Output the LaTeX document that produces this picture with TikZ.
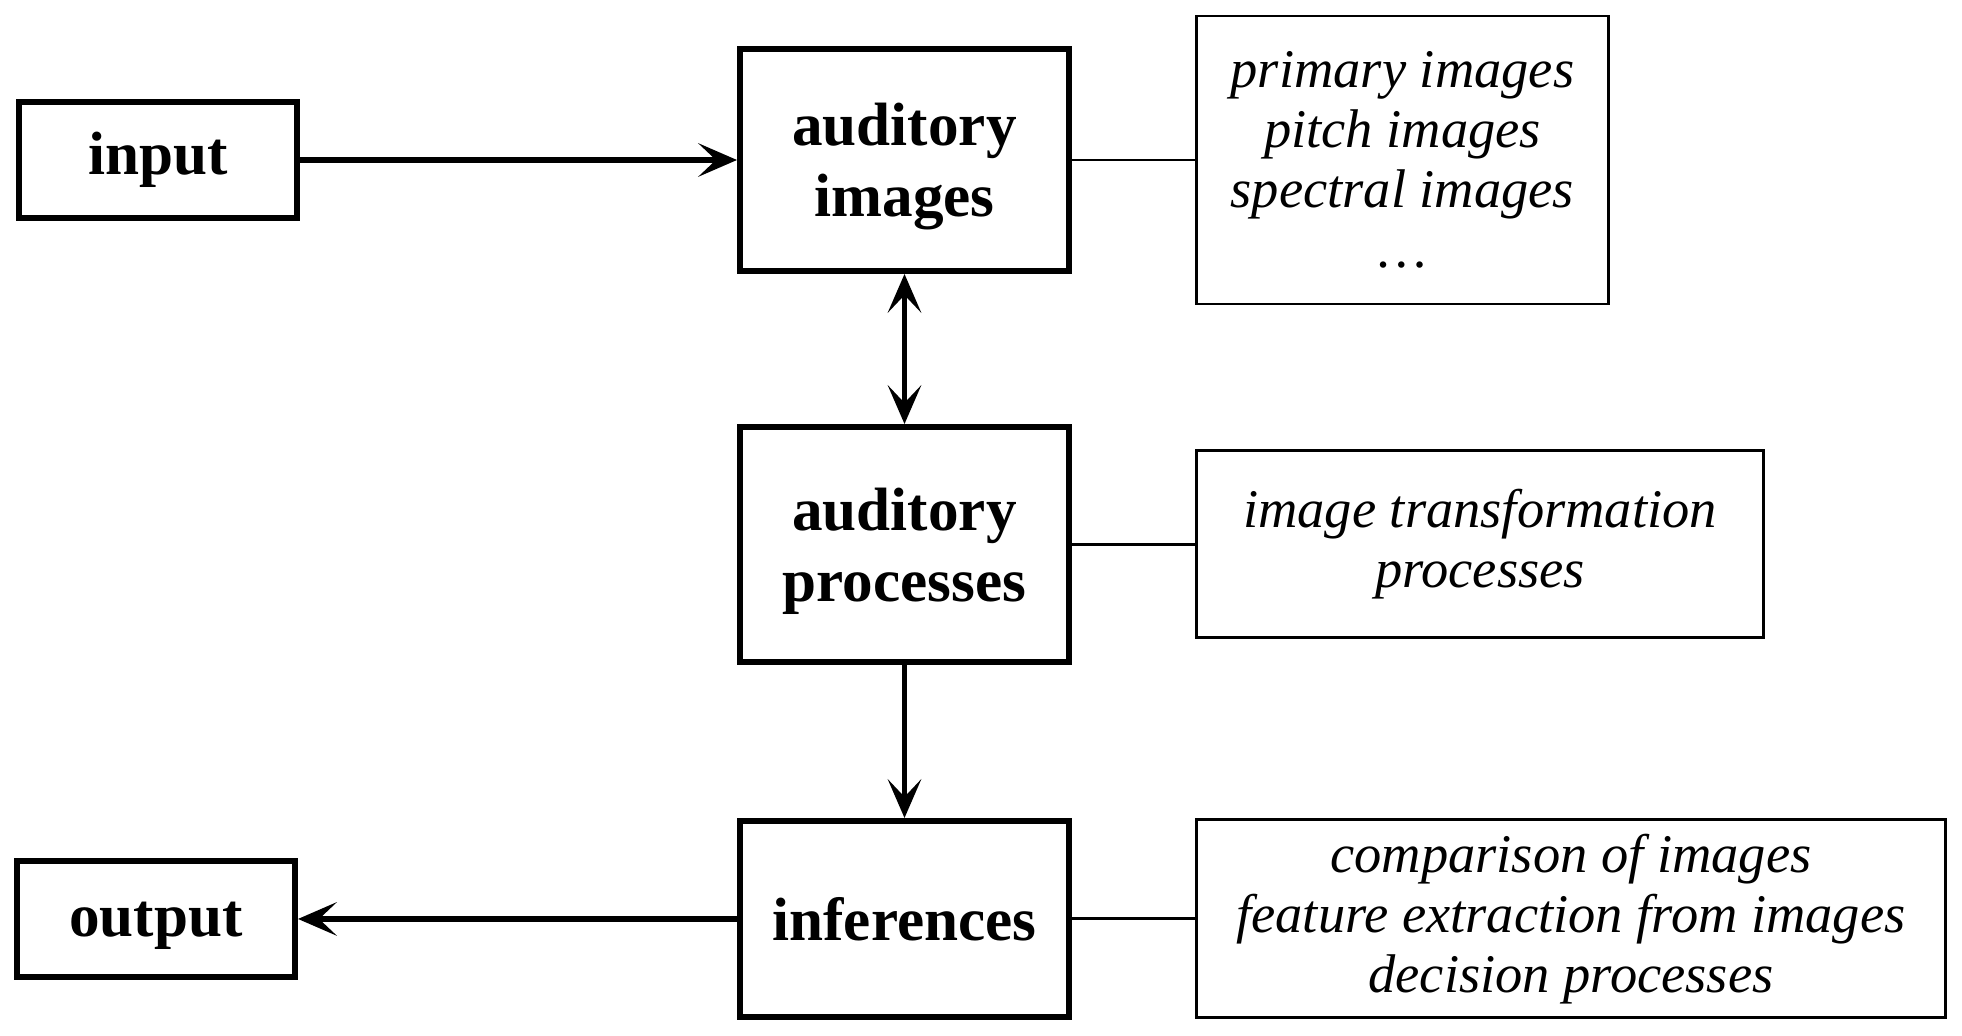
\documentclass[tikz,border=0pt]{standalone}
\usepackage{fontspec}
\setmainfont{Liberation Serif}
\usetikzlibrary{arrows.meta,positioning}

\begin{document}
\begin{tikzpicture}[
  mainbox/.style={draw,line width=1.7pt,align=center,minimum width=3.29cm,
    text depth=0pt,font=\fontsize{17.4}{20.2}\selectfont\bfseries},
  endbox/.style={mainbox,minimum width=2.78cm,minimum height=1.16cm},
  notebox/.style={draw,line width=0.85pt,align=center,
    font=\fontsize{15.5}{17.1}\selectfont\itshape},
  flow/.style={line width=1.7pt,-{Stealth[length=11pt,width=9.5pt,inset=5pt]}},
  twoway/.style={line width=1.7pt,
    {Stealth[length=11pt,width=9.5pt,inset=5pt]}-{Stealth[length=11pt,width=9.5pt,inset=5pt]}},
  link/.style={line width=0.85pt},
]
\useasboundingbox (0,0) rectangle (19.62,10.35);

% the main column
\node[mainbox,minimum height=2.22cm] (img) at (9.045,8.75) {auditory\\images};
\node[mainbox,minimum height=2.35cm,below=1.5cm of img] (proc) {auditory\\processes};
\node[mainbox,minimum height=1.96cm,below=1.53cm of proc] (inf) {inferences};

% input and output
\node[endbox,text depth=,left=4.37cm of img] (in) {input};
\node[endbox,left=4.39cm of inf] (out) {output};

% the notes on the right
\node[notebox,minimum width=4.12cm,minimum height=2.88cm,right=1.23cm of img] (n1)
  {primary images\\pitch images\\spectral images\\\ldots};
\node[notebox,minimum width=5.67cm,minimum height=1.87cm,right=1.23cm of proc] (n2)
  {image transformation\\processes};
\node[notebox,minimum width=7.49cm,minimum height=1.98cm,right=1.23cm of inf] (n3)
  {comparison of images\\feature extraction from images\\decision processes};

% arrows
\draw[flow] (in) -- (img);
\draw[twoway] (img) -- (proc);
\draw[flow] (proc) -- (inf);
\draw[flow] (inf) -- (out);

% links to the notes
\draw[link] (img) -- (n1);
\draw[link] (proc) -- (n2);
\draw[link] (inf) -- (n3);
\end{tikzpicture}
\end{document}
